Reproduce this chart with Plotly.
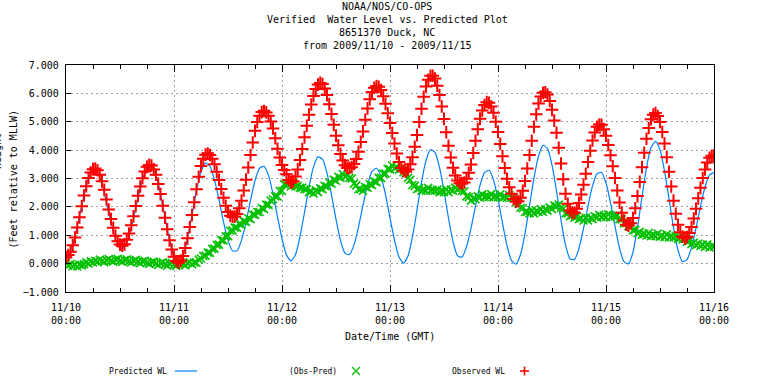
import pandas as pd
import plotly.graph_objects as go

# ---------------- data ----------------
start_time = "2009-11-10 00:00"

# Observed water level, every 30 minutes, 11/10 00:00 .. 11/16 00:00 (feet, MLLW)
observed_wl = [
    0.22, 0.30, 0.42, 0.65, 0.92, 1.27, 1.63, 2.02, 2.40, 2.73, 3.02, 3.21, 3.33, 3.35, 3.29, 3.13,
    2.90, 2.60, 2.26, 1.91, 1.57, 1.26, 0.98, 0.79, 0.67, 0.63, 0.68, 0.84, 1.06, 1.35, 1.67, 2.03,
    2.39, 2.72, 3.01, 3.25, 3.41, 3.48, 3.46, 3.32, 3.13, 2.81, 2.45, 2.04, 1.62, 1.21, 0.82, 0.50,
    0.24, 0.09, 0.03, 0.11, 0.27, 0.55, 0.89, 1.29, 1.71, 2.16, 2.62, 3.06, 3.44, 3.70, 3.84, 3.88,
    3.83, 3.70, 3.50, 3.24, 2.95, 2.63, 2.32, 2.04, 1.82, 1.69, 1.65, 1.66, 1.75, 1.95, 2.22, 2.58,
    2.96, 3.39, 3.83, 4.27, 4.68, 4.99, 5.21, 5.34, 5.38, 5.33, 5.21, 5.01, 4.76, 4.42, 4.05, 3.74,
    3.48, 3.30, 3.15, 2.95, 2.85, 2.90, 3.07, 3.32, 3.65, 4.04, 4.45, 4.86, 5.25, 5.61, 5.91, 6.15,
    6.31, 6.37, 6.33, 6.17, 5.94, 5.62, 5.27, 4.89, 4.51, 4.17, 3.86, 3.63, 3.47, 3.37, 3.37, 3.40,
    3.51, 3.69, 3.94, 4.29, 4.66, 5.07, 5.47, 5.79, 6.05, 6.20, 6.26, 6.23, 6.12, 5.90, 5.63, 5.30,
    4.96, 4.60, 4.23, 3.88, 3.58, 3.37, 3.27, 3.24, 3.32, 3.50, 3.75, 4.12, 4.53, 4.99, 5.46, 5.88,
    6.24, 6.48, 6.62, 6.62, 6.52, 6.27, 5.94, 5.54, 5.10, 4.63, 4.15, 3.74, 3.38, 3.11, 2.93, 2.83,
    2.83, 2.86, 2.99, 3.20, 3.49, 3.90, 4.33, 4.74, 5.11, 5.40, 5.59, 5.69, 5.67, 5.54, 5.32, 5.00,
    4.64, 4.22, 3.78, 3.37, 2.99, 2.69, 2.46, 2.28, 2.18, 2.20, 2.32, 2.57, 2.91, 3.35, 3.83, 4.33,
    4.82, 5.26, 5.64, 5.89, 6.02, 6.04, 5.96, 5.73, 5.42, 5.04, 4.61, 4.08, 3.53, 2.97, 2.46, 2.11,
    1.87, 1.79, 1.80, 1.93, 2.14, 2.44, 2.78, 3.17, 3.58, 3.98, 4.34, 4.62, 4.82, 4.90, 4.89, 4.74,
    4.51, 4.18, 3.82, 3.43, 3.02, 2.58, 2.15, 1.79, 1.52, 1.37, 1.34, 1.42, 1.61, 1.95, 2.38, 2.88,
    3.40, 3.91, 4.40, 4.78, 5.09, 5.25, 5.31, 5.20, 4.99, 4.64, 4.23, 3.75, 3.24, 2.72, 2.22, 1.76,
    1.37, 1.11, 0.95, 0.89, 0.94, 1.08, 1.29, 1.59, 1.93, 2.30, 2.67, 3.02, 3.32, 3.56, 3.73, 3.80,
    3.81,
]

# Observed minus predicted, every 30 minutes (feet)
obs_minus_pred = [
    0.02, -0.06, -0.02, -0.09, -0.05, -0.10, -0.03, -0.06, -0.02, 0.05, 0.00, 0.08, 0.04, 0.10, 0.06, 0.14,
    0.09, 0.05, 0.12, 0.16, 0.10, 0.07, 0.14, 0.17, 0.10, 0.06, 0.12, 0.15, 0.08, 0.04, 0.10, 0.13,
    0.06, 0.02, 0.08, 0.10, 0.03, -0.01, 0.05, 0.07, 0.00, -0.05, 0.02, 0.05, -0.02, -0.07, 0.00, 0.03,
    -0.04, -0.08, 0.00, 0.03, -0.02, -0.06, 0.02, 0.05, -0.02, 0.04, 0.03, 0.14, 0.18, 0.27, 0.28, 0.39,
    0.38, 0.52, 0.53, 0.66, 0.67, 0.83, 0.82, 0.96, 0.97, 1.16, 1.17, 1.27, 1.27, 1.40, 1.37, 1.50,
    1.47, 1.60, 1.57, 1.73, 1.72, 1.82, 1.82, 1.96, 1.92, 2.08, 2.07, 2.22, 2.27, 2.37, 2.37, 2.56,
    2.57, 2.80, 2.82, 2.84, 2.72, 2.84, 2.72, 2.74, 2.67, 2.68, 2.62, 2.62, 2.52, 2.54, 2.47, 2.58,
    2.52, 2.65, 2.62, 2.74, 2.72, 2.86, 2.82, 2.96, 2.92, 3.06, 3.02, 3.16, 3.07, 3.12, 3.02, 3.00,
    2.82, 2.76, 2.62, 2.62, 2.57, 2.70, 2.67, 2.80, 2.77, 2.90, 2.87, 3.02, 3.02, 3.17, 3.17, 3.34,
    3.32, 3.46, 3.37, 3.40, 3.32, 3.35, 3.22, 3.18, 3.02, 2.95, 2.77, 2.74, 2.62, 2.66, 2.57, 2.61,
    2.57, 2.67, 2.57, 2.60, 2.57, 2.61, 2.52, 2.55, 2.52, 2.62, 2.52, 2.61, 2.57, 2.68, 2.62, 2.66,
    2.57, 2.54, 2.37, 2.34, 2.22, 2.31, 2.27, 2.37, 2.32, 2.44, 2.35, 2.39, 2.35, 2.45, 2.34, 2.38,
    2.34, 2.44, 2.32, 2.36, 2.32, 2.42, 2.32, 2.32, 2.17, 2.13, 1.97, 1.95, 1.82, 1.83, 1.77, 1.88,
    1.77, 1.86, 1.82, 1.92, 1.82, 1.91, 1.87, 1.98, 1.92, 2.05, 2.02, 2.08, 1.97, 1.94, 1.77, 1.77,
    1.67, 1.70, 1.62, 1.66, 1.57, 1.60, 1.52, 1.62, 1.52, 1.61, 1.57, 1.67, 1.62, 1.72, 1.65, 1.69,
    1.64, 1.74, 1.64, 1.69, 1.67, 1.70, 1.57, 1.56, 1.42, 1.43, 1.32, 1.31, 1.17, 1.19, 1.07, 1.12,
    1.02, 1.05, 0.99, 1.08, 0.97, 1.01, 0.97, 1.06, 0.95, 0.99, 0.93, 1.03, 0.92, 0.96, 0.92, 0.97,
    0.87, 0.91, 0.85, 0.88, 0.77, 0.80, 0.69, 0.74, 0.65, 0.70, 0.62, 0.67, 0.59, 0.68, 0.57, 0.62,
    0.60,
]

# Predicted water level, hourly (feet, MLLW)
predicted_wl = [
    0.22, 0.44, 0.97, 1.68, 2.42, 3.00, 3.28, 3.21, 2.80, 2.16, 1.45, 0.86, 0.55, 0.58, 0.96, 1.59,
    2.31, 2.95, 3.36, 3.43, 3.11, 2.45, 1.62, 0.84, 0.26, 0.05, 0.27, 0.89, 1.71, 2.57, 3.24, 3.54,
    3.43, 2.95, 2.25, 1.47, 0.82, 0.45, 0.45, 0.82, 1.46, 2.23, 2.93, 3.36, 3.43, 3.11, 2.46, 1.65,
    0.88, 0.30, 0.10, 0.32, 0.95, 1.80, 2.70, 3.41, 3.76, 3.68, 3.19, 2.42, 1.56, 0.81, 0.37, 0.32,
    0.66, 1.29, 2.06, 2.77, 3.25, 3.36, 3.07, 2.43, 1.61, 0.83, 0.23, 0.02, 0.27, 0.95, 1.88, 2.86,
    3.64, 4.02, 3.92, 3.39, 2.55, 1.60, 0.78, 0.28, 0.23, 0.59, 1.24, 2.03, 2.76, 3.21, 3.29, 2.95,
    2.27, 1.43, 0.64, 0.11, -0.02, 0.32, 1.06, 2.03, 3.02, 3.79, 4.17, 4.06, 3.47, 2.56, 1.53, 0.66,
    0.17, 0.15, 0.54, 1.23, 2.03, 2.74, 3.17, 3.21, 2.84, 2.15, 1.32, 0.55, 0.07, -0.01, 0.41, 1.28,
    2.35, 3.38, 4.09, 4.31, 4.01, 3.27, 2.29, 1.27, 0.47, 0.07, 0.14, 0.57, 1.25, 2.02, 2.70, 3.13,
    3.21,
]

obs_times = pd.date_range(start_time, periods=len(observed_wl), freq="30min")
pred_times = pd.date_range(start_time, periods=len(predicted_wl), freq="60min")

title_lines = [
    "NOAA/NOS/CO-OPS",
    "Verified  Water Level vs. Predicted Plot",
    "8651370 Duck, NC",
    "from 2009/11/10 - 2009/11/15",
]
y_ticks = [-1, 0, 1, 2, 3, 4, 5, 6, 7]
legend_names = ["Predicted WL", "(Obs-Pred)", "Observed WL"]

RED = "#ff0000"
GREEN = "#00c000"
BLUE = "#0080ff"
FONT = "DejaVu Sans Mono"

# ---------------- layout helpers (pixel -> paper) ----------------
W, H = 768, 384
L, R, T, B = 66, 54, 65, 92
PW, PH = W - L - R, H - T - B


def px(x):
    return (x - L) / PW


def py(y):
    return (H - B - y) / PH


fig = go.Figure()
fig.add_trace(go.Scatter(
    x=pred_times, y=predicted_wl, mode="lines", name=legend_names[0],
    line=dict(color=BLUE, width=1.2, shape="spline", smoothing=0.6),
))
fig.add_trace(go.Scatter(
    x=obs_times, y=obs_minus_pred, mode="markers", name=legend_names[1],
    marker=dict(symbol="x-thin", size=8, line=dict(color=GREEN, width=1.6)),
))
fig.add_trace(go.Scatter(
    x=obs_times, y=observed_wl, mode="markers", name=legend_names[2],
    marker=dict(symbol="cross-thin", size=9, line=dict(color=RED, width=2)),
))

annotations = []
for i, line in enumerate(title_lines):
    annotations.append(dict(
        text=line, x=px(387), y=py(6.5 + 13 * i), xref="paper", yref="paper",
        xanchor="center", yanchor="middle", showarrow=False,
        font=dict(family=FONT, size=10, color="black"),
    ))
annotations.append(dict(
    text="(Feet relative to MLLW)", x=px(13), y=py(179.5), xref="paper", yref="paper",
    xanchor="center", yanchor="middle", textangle=-90, showarrow=False,
    font=dict(family=FONT, size=10, color="black"),
))
annotations.append(dict(
    text="Height", x=px(-3), y=py(151), xref="paper", yref="paper",
    xanchor="center", yanchor="middle", textangle=-90, showarrow=False,
    font=dict(family=FONT, size=10, color="black"),
))
annotations.append(dict(
    text="Date/Time (GMT)", x=px(390), y=py(336), xref="paper", yref="paper",
    xanchor="center", yanchor="middle", showarrow=False,
    font=dict(family=FONT, size=10, color="black"),
))
for name, right in zip(legend_names, [169, 339, 507]):
    annotations.append(dict(
        text=name, x=px(right), y=py(371), xref="paper", yref="paper",
        xanchor="right", yanchor="middle", showarrow=False,
        font=dict(family=FONT, size=8, color="black"),
    ))

shapes = [
    dict(type="line", xref="paper", yref="paper", x0=px(175), x1=px(197), y0=py(371), y1=py(371),
         line=dict(color=BLUE, width=1.2)),
    dict(type="line", xref="paper", yref="paper", x0=px(352), x1=px(360), y0=py(367), y1=py(375),
         line=dict(color=GREEN, width=1.2)),
    dict(type="line", xref="paper", yref="paper", x0=px(352), x1=px(360), y0=py(375), y1=py(367),
         line=dict(color=GREEN, width=1.2)),
    dict(type="line", xref="paper", yref="paper", x0=px(520), x1=px(529), y0=py(371), y1=py(371),
         line=dict(color=RED, width=1.6)),
    dict(type="line", xref="paper", yref="paper", x0=px(524.5), x1=px(524.5), y0=py(366.5), y1=py(375.5),
         line=dict(color=RED, width=1.6)),
]

fig.update_layout(
    width=W, height=H,
    margin=dict(l=L, r=R, t=T, b=B, pad=0, autoexpand=False),
    paper_bgcolor="white", plot_bgcolor="white",
    showlegend=False,
    annotations=annotations, shapes=shapes,
    font=dict(family=FONT, size=10, color="black"),
)
fig.update_xaxes(
    type="date", range=["2009-11-10 00:00", "2009-11-16 00:00"],
    dtick=86400000, tick0="2009-11-10", tickformat="%m/%d<br>%H:%M",
    ticks="inside", ticklen=7, tickcolor="black", tickwidth=1,
    minor=dict(dtick=6 * 3600000, ticks="inside", ticklen=4, tickcolor="black", showgrid=False),
    showline=True, linecolor="black", linewidth=1.3, mirror="allticks",
    showgrid=True, gridcolor="#a0a0a0", griddash="2px,3px", gridwidth=1,
    tickfont=dict(family=FONT, size=10, color="black"),
    ticklabelstandoff=6,
    zeroline=False, automargin=False,
)
fig.update_yaxes(
    range=[-1, 7], tickvals=y_ticks, tickformat=".3f",
    ticks="inside", ticklen=5, tickcolor="black",
    showline=True, linecolor="black", linewidth=1.3, mirror=True,
    showgrid=True, gridcolor="#a0a0a0", griddash="2px,3px", gridwidth=1,
    tickfont=dict(family=FONT, size=10, color="black"),
    ticklabelstandoff=4,
    zeroline=False, automargin=False,
)

# remove the browser's default 8px page margin so the figure sits at (0, 0)
fig.write_html(
    "out.html",
    config={"displayModeBar": False},
    post_script="document.body.style.margin='0';document.body.style.padding='0';",
)
